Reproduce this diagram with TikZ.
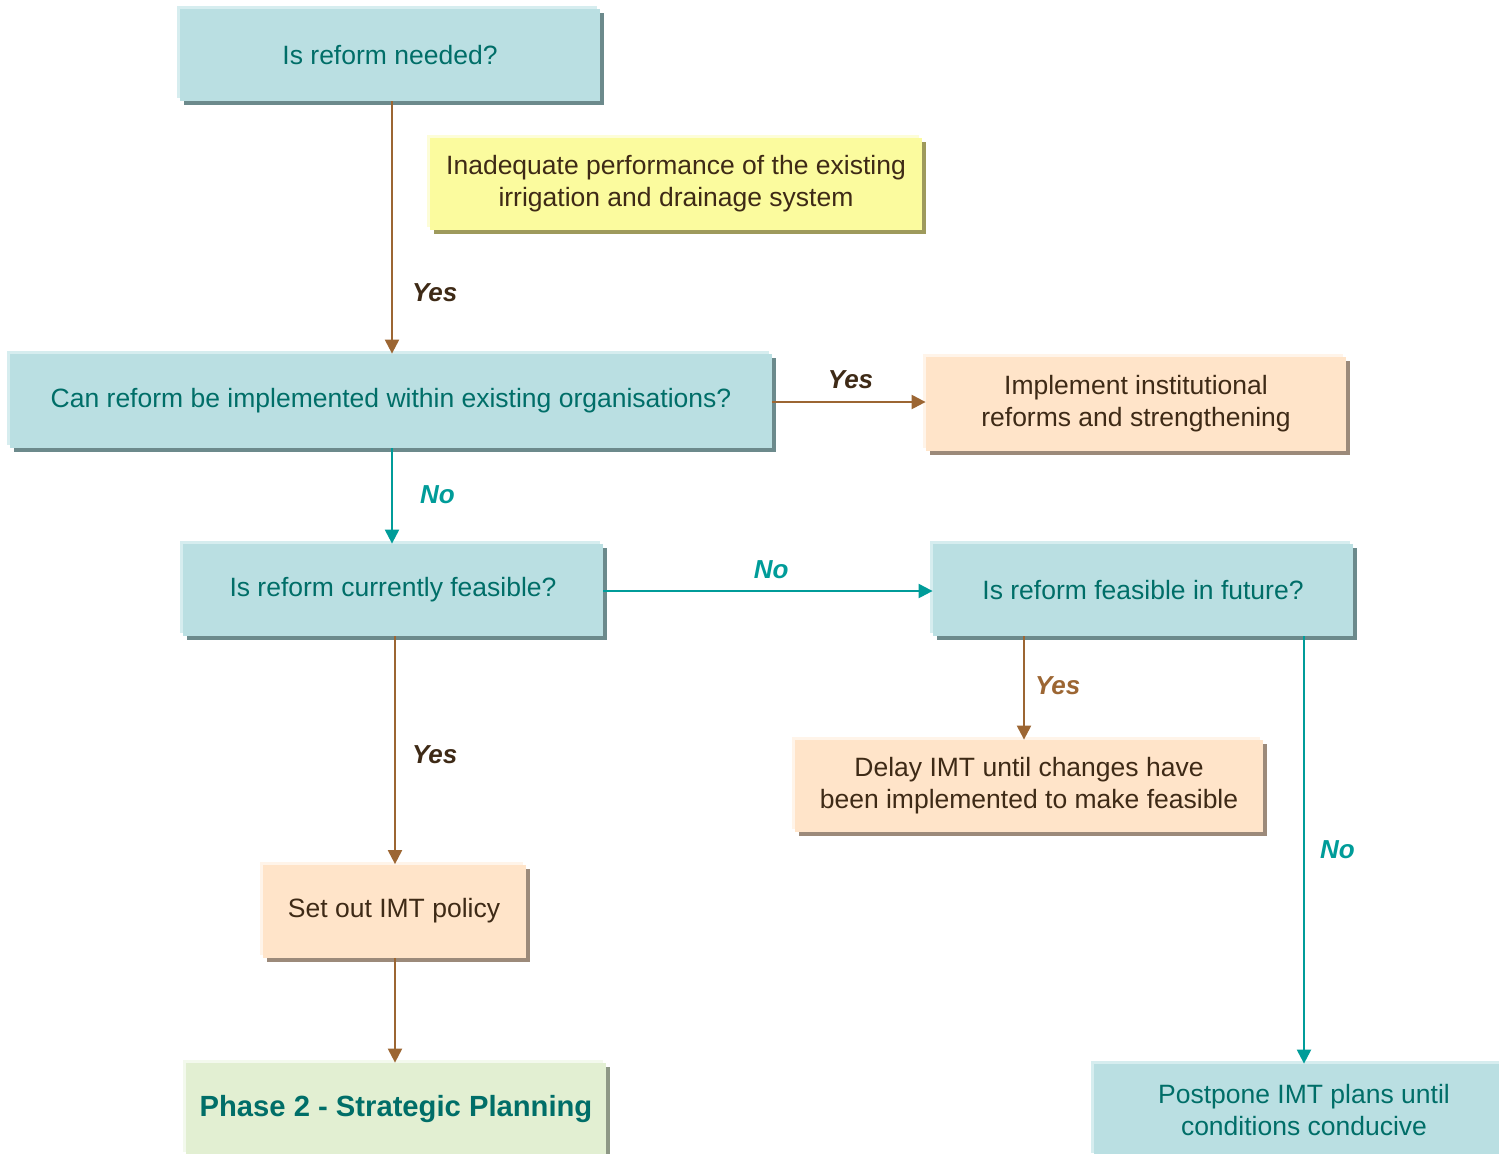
\documentclass[tikz,border=0pt]{standalone}
\usepackage{fontspec}
\setmainfont{Liberation Sans}
\usetikzlibrary{arrows.meta,shadows}
\definecolor{tealfill}{HTML}{BADFE2}
\definecolor{tealshade}{HTML}{6C8A8C}
\definecolor{teallight}{HTML}{D6EDEF}
\definecolor{tealtext}{HTML}{006E68}
\definecolor{tealline}{HTML}{009C99}
\definecolor{yellowfill}{HTML}{FBFB9E}
\definecolor{yellowshade}{HTML}{9E9A5C}
\definecolor{peachfill}{HTML}{FFE4C9}
\definecolor{peachshade}{HTML}{9C8A7A}
\definecolor{greenfill}{HTML}{E2EFD2}
\definecolor{greenshade}{HTML}{8E9886}
\definecolor{brownline}{HTML}{9C6633}
\definecolor{browntext}{HTML}{3E2A16}
\tikzset{
  box/.style={minimum width=210pt, minimum height=46pt, align=center, inner sep=0pt,
    font=\fontsize{13.25}{16}\selectfont},
  qbox/.style={box, fill=tealfill, text=tealtext,
    general shadow={fill=teallight, shadow xshift=-1.5pt, shadow yshift=1.5pt},
    general shadow={fill=tealshade, shadow xshift=2pt, shadow yshift=-2pt}},
  abox/.style={box, fill=peachfill, text=browntext,
    general shadow={fill=white!60!peachfill, shadow xshift=-1.5pt, shadow yshift=1.5pt},
    general shadow={fill=peachshade, shadow xshift=2pt, shadow yshift=-2pt}},
  yes/.style={draw=brownline, line width=1.1pt, -{Triangle[length=7pt,width=7pt]}},
  no/.style={draw=tealline, line width=1.1pt, -{Triangle[length=7pt,width=7pt]}},
  lbl/.style={font=\fontsize{13}{15}\selectfont\bfseries\itshape, inner sep=0pt}
}
\begin{document}
\begin{tikzpicture}[x=0.5pt,y=-0.5pt]
    \useasboundingbox (0,0) rectangle (1499,1153);
    \clip (0,0) rectangle (1499,1153);
    \node [qbox] (need) at (390,55) {Is reform needed?};
    \node [box, minimum width=246pt, fill=yellowfill, text=browntext,
      general shadow={fill=white!60!yellowfill, shadow xshift=-1.5pt, shadow yshift=1.5pt},
      general shadow={fill=yellowshade, shadow xshift=2pt, shadow yshift=-2pt}] (why) at (676,184)
      {Inadequate performance of the existing\\irrigation and drainage system};
    \node [qbox, minimum width=381pt, minimum height=47pt] (within) at (391,401)
      {Can reform be implemented within existing organisations?};
    \node [abox, minimum height=47pt] (inst) at (1136,404) {Implement institutional\\reforms and strengthening};
    \node [qbox] (now) at (393,590) {Is reform currently feasible?};
    \node [qbox] (future) at (1143,590) {Is reform feasible in future?};
    \node [abox, minimum width=234pt] (delay) at (1029,786)
      {Delay IMT until changes have\\been implemented to make feasible};
    \node [abox, minimum width=131.5pt, minimum height=46.5pt] (policy) at (394,911) {Set out IMT policy};
    \node [box, fill=greenfill, text=tealtext, font=\fontsize{14.6}{17}\selectfont\bfseries,
      general shadow={fill=white!60!greenfill, shadow xshift=-1.5pt, shadow yshift=1.5pt},
      general shadow={fill=greenshade, shadow xshift=2pt, shadow yshift=-2pt}] (phase) at (396,1109)
      {Phase 2 - Strategic Planning};
    \node [qbox] (postpone) at (1304,1110) {Postpone IMT plans until\\conditions conducive};

    \draw [yes] (need.south -| 392,0) -- (within.north -| 392,0)
      node [lbl, pos=.76, anchor=west, xshift=9.5pt, text=browntext] {Yes};
    \draw [yes] (within.east |- 0,402) -- (inst.west |- 0,402)
      node [lbl, pos=.51, anchor=south, yshift=6pt, text=browntext] {Yes};
    \draw [no] (within.south -| 392,0) -- (now.north -| 392,0)
      node [lbl, pos=.49, anchor=west, xshift=13.5pt, text=tealline] {No};
    \draw [no] (now.east |- 0,591) -- (future.west |- 0,591)
      node [lbl, pos=.51, anchor=south, yshift=5.5pt, text=tealline] {No};
    \draw [yes] (future.south -| 1024,0) -- (delay.north -| 1024,0)
      node [lbl, pos=.48, anchor=west, xshift=5pt, text=brownline] {Yes};
    \draw [no] (future.south -| postpone.north) -- (postpone.north)
      node [lbl, pos=.5, anchor=west, xshift=7.5pt, text=tealline] {No};
    \draw [yes] (now.south -| 395,0) -- (policy.north -| 395,0)
      node [lbl, pos=.52, anchor=west, xshift=8pt, text=browntext] {Yes};
    \draw [yes] (policy.south -| 395,0) -- (phase.north -| 395,0);
\end{tikzpicture}
\end{document}
